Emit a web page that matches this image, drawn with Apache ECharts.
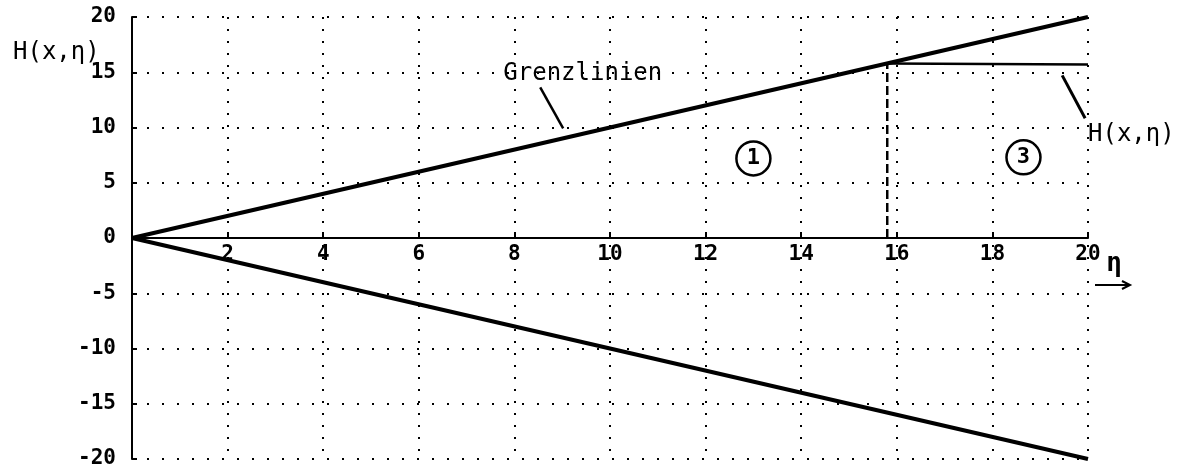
<!DOCTYPE html>
<html>
<head>
<meta charset="utf-8">
<script src="https://cdn.jsdelivr.net/npm/echarts@6/dist/echarts.min.js"></script>
<style>
  html, body { margin: 0; padding: 0; background: #fff; }
  #chart { width: 1183px; height: 470px; }
</style>
</head>
<body>
<div id="chart"></div>
<script>
// Boundary lines H = ±η and the curve H(x, η) in region 3
const boundEta = [0, 20];
const upperBound = [0, 20];
const lowerBound = [0, -20];
const hEta = [15.8, 20];
const hValues = [15.8, 15.7];
const switchEta = 15.8;          // dashed marker from the axis up to the boundary
const regionNames = ['1', '3'];
const regionEta = [13, 18.65];
const regionH = [7.2, 7.3];
const boundLabel = 'Grenzlinien';
const curveLabel = 'H(x,η)';

const MONO = '"DejaVu Sans Mono", monospace';
const pairs = (xs, ys) => xs.map((x, i) => [x, ys[i]]);

const GRID = { left: 132, right: 95, top: 17, bottom: 11 };
const CHART_H = 470;
// η axis sits at H = 0, i.e. half way up the plot
const zeroOffset = -(CHART_H - GRID.top - GRID.bottom) / 2;

const chart = echarts.init(document.getElementById('chart'), null, { renderer: 'canvas' });

const lineSeries = (data, width, extra) => Object.assign({
  type: 'line', data: data, symbol: 'none', silent: true, animation: false,
  lineStyle: { color: '#000', width: width }
}, extra || {});

chart.setOption({
  animation: false,
  backgroundColor: '#fff',
  title: {
    text: curveLabel, left: 8, top: 36,
    textStyle: { fontFamily: MONO, fontSize: 24, fontWeight: 'normal', color: '#000' }
  },
  grid: Object.assign({ containLabel: false }, GRID),
  xAxis: {
    type: 'value', min: 0, max: 20, interval: 2,
    offset: zeroOffset,
    axisLine: { onZero: false, lineStyle: { color: '#000', width: 2 } },
    axisTick: { inside: true, length: 6, lineStyle: { color: '#000', width: 2 } },
    axisLabel: {
      margin: 6, fontFamily: MONO, fontWeight: 'bold', fontSize: 21, color: '#000',
      formatter: v => (v === 0 ? '' : String(v))
    },
    splitLine: { show: true, lineStyle: { color: '#000', width: 2, type: [2, 10] } }
  },
  yAxis: {
    type: 'value', min: -20, max: 20, interval: 5,
    axisLine: { show: true, lineStyle: { color: '#000', width: 2 } },
    axisTick: { show: true, inside: true, length: 5, lineStyle: { color: '#000', width: 2 } },
    axisLabel: { margin: 16, fontFamily: MONO, fontWeight: 'bold', fontSize: 21, color: '#000' },
    splitLine: { show: true, lineStyle: { color: '#000', width: 2, type: [2, 13] } }
  },
  series: [
    lineSeries(pairs(boundEta, upperBound), 4),
    lineSeries(pairs(boundEta, lowerBound), 4),
    lineSeries(pairs(hEta, hValues), 2.5),
    lineSeries([[switchEta, 0], [switchEta, switchEta]], 2.5, {
      lineStyle: { color: '#000', width: 2.5, type: [9, 4] }
    }),
    // leader lines for the two text labels
    lineSeries([[8.54, 13.64], [9.02, 9.93]], 2.5),
    lineSeries([[19.46, 14.72], [19.94, 10.83]], 3),
    {
      type: 'scatter', silent: true, animation: false,
      data: pairs(regionEta, regionH).map((p, i) => ({ value: p, name: regionNames[i] })),
      symbol: 'circle', symbolSize: 34,
      itemStyle: { color: '#fff', borderColor: '#000', borderWidth: 2.5, opacity: 1 },
      label: {
        show: true, position: 'inside', formatter: p => p.name,
        fontFamily: MONO, fontWeight: 'bold', fontSize: 22, color: '#000'
      },
      z: 5
    },
    {
      type: 'scatter', silent: true, animation: false, symbolSize: 0,
      itemStyle: { opacity: 1 },
      data: [
        { value: [9.43, 14.9], label: { align: 'center' }, name: boundLabel },
        { value: [20.0, 9.3], label: { align: 'left' }, name: curveLabel }
      ],
      label: {
        show: true, position: 'inside', formatter: p => p.name,
        fontFamily: MONO, fontSize: 24, color: '#000'
      },
      z: 6
    }
  ]
});

// axis name η with its arrow, anchored at the end of the η axis
const end = chart.convertToPixel({ gridIndex: 0 }, [20, 0]);
chart.setOption({
  graphic: [
    {
      type: 'text', x: end[0] + 26, y: end[1] + 26,
      style: {
        text: 'η', fontFamily: MONO, fontWeight: 'bold', fontSize: 26,
        fill: '#000', align: 'center', verticalAlign: 'middle'
      }
    },
    {
      type: 'line',
      shape: { x1: end[0] + 7, y1: end[1] + 47, x2: end[0] + 41, y2: end[1] + 47 },
      style: { stroke: '#000', lineWidth: 2 }
    },
    {
      type: 'polyline',
      shape: { points: [[end[0] + 34, end[1] + 43], [end[0] + 42, end[1] + 47], [end[0] + 34, end[1] + 51]] },
      style: { stroke: '#000', lineWidth: 2, fill: null }
    }
  ]
});
</script>
</body>
</html>
